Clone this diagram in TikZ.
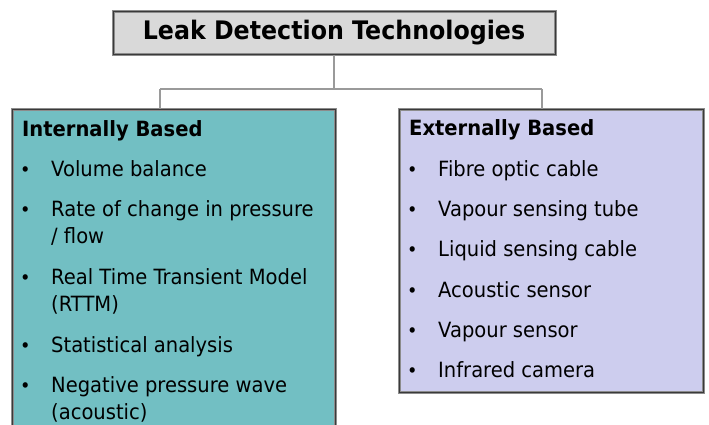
\documentclass[tikz,border=0pt]{standalone}
\usepackage{fontspec}
\setmainfont{DejaVu Sans}[FakeStretch=0.93]
\definecolor{titlefill}{HTML}{D9D9D9}
\definecolor{tealfill}{HTML}{72BFC3}
\definecolor{lavfill}{HTML}{CDCDEE}
\definecolor{bordergray}{HTML}{8C8C8C}
\definecolor{borderdark}{HTML}{3A3A3A}
\definecolor{conngray}{HTML}{9A9A9A}
\begin{document}
\begin{tikzpicture}[x=1pt,y=-1pt,
  box/.style={rectangle, draw=bordergray, line width=1pt, double=borderdark, double distance=1pt, inner sep=0pt},
  conn/.style={draw=conngray, line width=1.6pt},
  txt/.style={anchor=base west, inner sep=0pt, font=\fontsize{21}{24}\selectfont},
  head/.style={txt, font=\fontsize{21}{24}\selectfont\bfseries},
  bul/.style={anchor=base west, inner sep=0pt, font=\fontsize{19}{20}\selectfont}
]
\useasboundingbox (0,0) rectangle (709,424);
\clip (0,0) rectangle (709,424);

% boxes
\node[box, fill=titlefill, minimum width=442pt, minimum height=43pt] (title) at (334,32.5)
  {\fontsize{25.5}{30}\selectfont\bfseries Leak Detection Technologies};
\node[box, fill=tealfill, minimum width=323pt, minimum height=331pt] (left) at (173.5,274.5) {};
\node[box, fill=lavfill, minimum width=304pt, minimum height=283pt] (right) at (551,250.5) {};

% connectors
\coordinate (jl) at (160,89);
\coordinate (jr) at (542,89);
\draw[conn] (title.south) -- (title.south |- jl);
\draw[conn] (jl) -- (jr);
\draw[conn] (jl) -- (jl |- left.north);
\draw[conn] (jr) -- (jr |- right.north);

% left texts
\node[head] (lh) at (22,136) {Internally Based};
\node[bul] (lb1) at (20,176.5) {•};
\node[txt] (l1) at (51,176.5) {Volume balance};
\node[bul] (lb2) at (20,216) {•};
\node[txt] (l2a) at (51,216) {Rate of change in pressure};
\node[txt] (l2b) at (51,243) {/ flow};
\node[bul] (lb3) at (20,284.5) {•};
\node[txt] (l3a) at (51,284.5) {Real Time Transient Model};
\node[txt] (l3b) at (51,311.5) {(RTTM)};
\node[bul] (lb4) at (20,352) {•};
\node[txt] (l4) at (51,352) {Statistical analysis};
\node[bul] (lb5) at (20,392.5) {•};
\node[txt] (l5a) at (51,392.5) {Negative pressure wave};
\node[txt] (l5b) at (51,419.5) {(acoustic)};

% right texts
\node[head] (rh) at (409,135) {Externally Based};
\node[bul] (rb1) at (407,176) {•};
\node[txt] (r1) at (438,176) {Fibre optic cable};
\node[bul] (rb2) at (407,216) {•};
\node[txt] (r2) at (438,216) {Vapour sensing tube};
\node[bul] (rb3) at (407,256.5) {•};
\node[txt] (r3) at (438,256.5) {Liquid sensing cable};
\node[bul] (rb4) at (407,297) {•};
\node[txt] (r4) at (438,297) {Acoustic sensor};
\node[bul] (rb5) at (407,337) {•};
\node[txt] (r5) at (438,337) {Vapour sensor};
\node[bul] (rb6) at (407,377.5) {•};
\node[txt] (r6) at (438,377.5) {Infrared camera};
\end{tikzpicture}
\end{document}
